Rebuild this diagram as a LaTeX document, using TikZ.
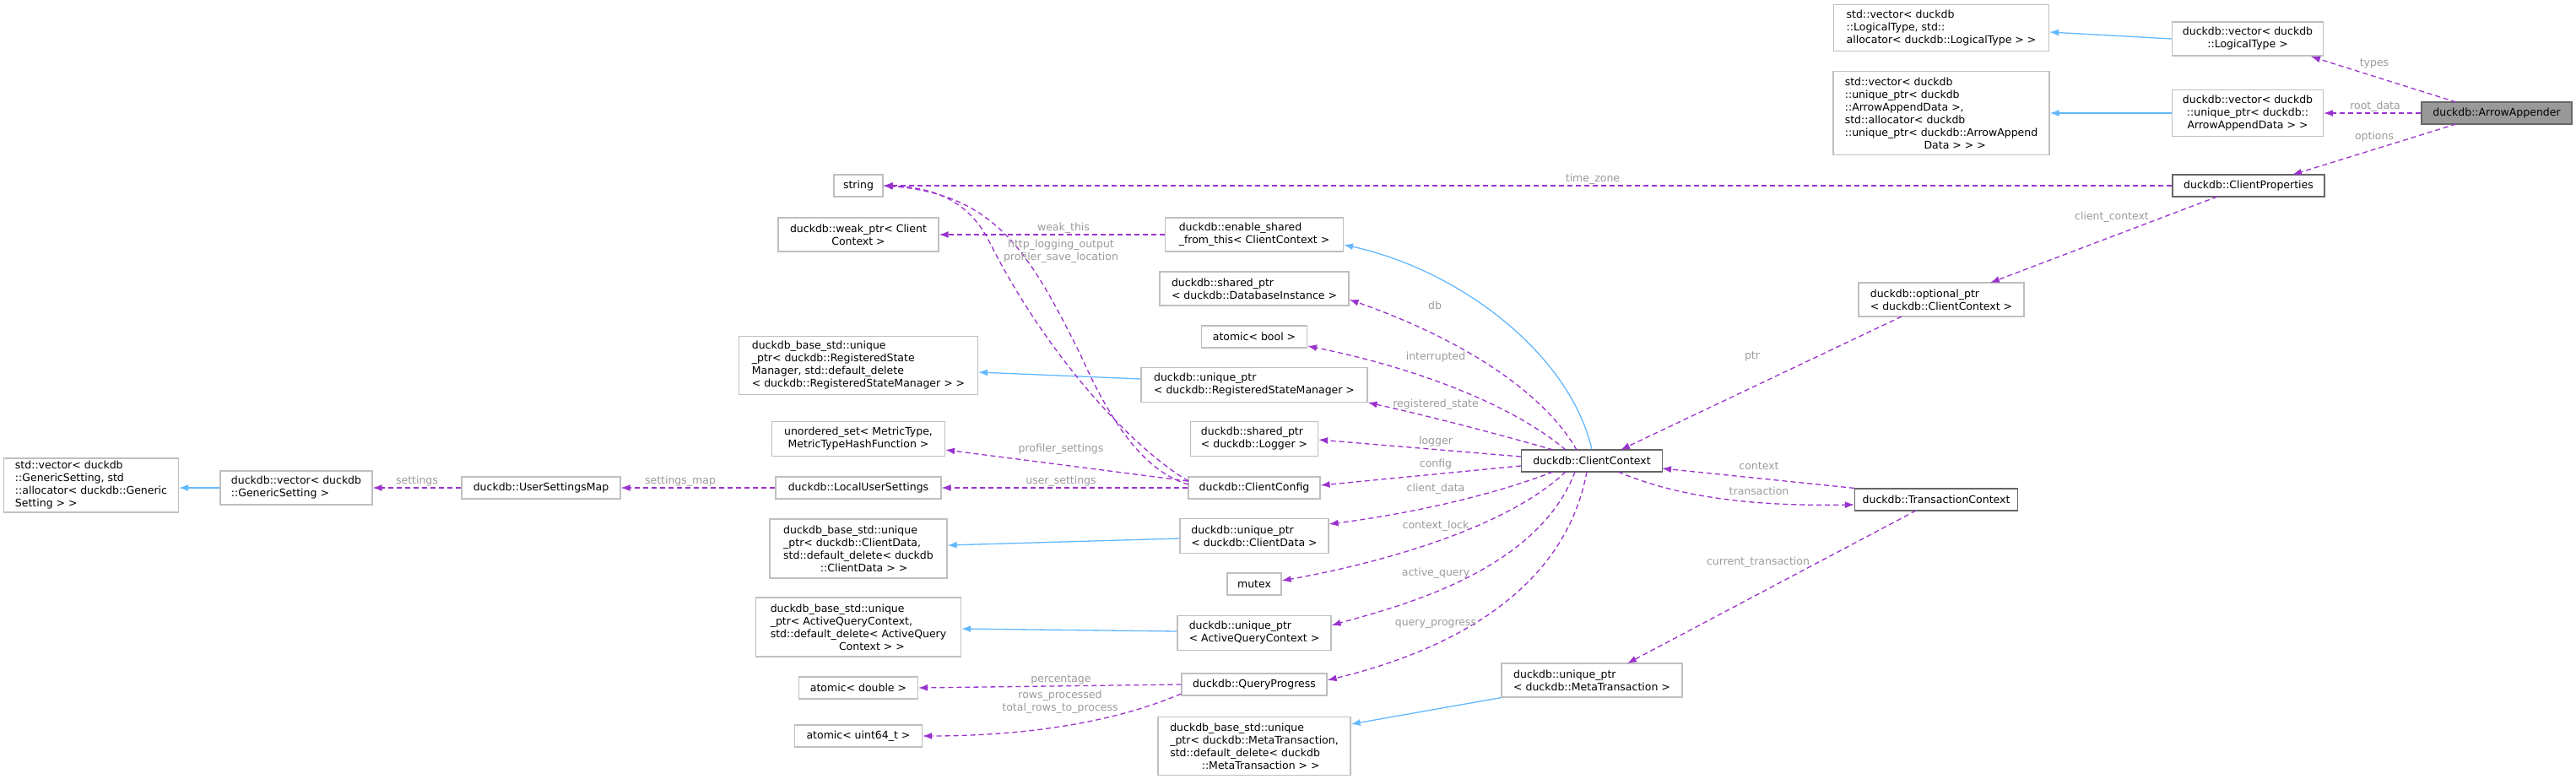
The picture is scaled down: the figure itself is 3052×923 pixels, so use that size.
\documentclass[tikz,border=0pt]{standalone}
\usepackage{fontspec}
\setmainfont{DejaVu Sans}
\usetikzlibrary{arrows.meta}
\definecolor{pur}{HTML}{9A32CD}
\definecolor{blu}{HTML}{63B8FF}
\definecolor{lbl}{HTML}{9A9A9A}
\begin{document}
\begin{tikzpicture}[x=1pt,y=-1pt,
  box/.style={draw=black!25,line width=1.2pt,fill=white,inner sep=0pt,font=\fontsize{12.5}{15}\selectfont,align=left},
  dk/.style={box,draw=black!60},
  lab/.style={text=lbl,font=\fontsize{12.5}{15}\selectfont,inner sep=0pt,align=center},
  mem/.style={draw=pur,line width=1.3pt,dash pattern=on 6pt off 4pt,-{Latex[length=11pt,width=8pt]}},
  inh/.style={draw=blu,line width=1.3pt,-{Latex[length=11pt,width=8pt]}}]
\useasboundingbox (0,0) rectangle (3052,923);
% nodes
\node[box,minimum width=255,minimum height=55] (svLT) at (2300,33) {std::vector< duckdb\\::LogicalType, std::\\allocator< duckdb::LogicalType > >};
\node[box,align=center,minimum width=179,minimum height=40] (vLT) at (2663,46) {duckdb::vector< duckdb\\::LogicalType >};
\node[box,minimum width=256,minimum height=99] (svAAD) at (2300,134) {std::vector< duckdb\\::unique\_ptr< duckdb\\::ArrowAppendData >,\\ std::allocator< duckdb\\::unique\_ptr< duckdb::ArrowAppend\\\hspace*{7.5em}Data > > >};
\node[box,align=center,minimum width=179,minimum height=55] (vAAD) at (2663,134) {duckdb::vector< duckdb\\::unique\_ptr< duckdb::\\ArrowAppendData > >};
\node[dk,fill=black!40,minimum width=178,minimum height=26] (aa) at (2958,134) {duckdb::ArrowAppender};
\node[dk,minimum width=180,minimum height=26] (cp) at (2664,220) {duckdb::ClientProperties};
\node[box,minimum width=196,minimum height=40] (opt) at (2300,355) {duckdb::optional\_ptr\\< duckdb::ClientContext >};
\node[box,minimum width=58,minimum height=26] (str) at (1017,220) {string};
\node[box,align=center,minimum width=190,minimum height=40] (wp) at (1017,278) {duckdb::weak\_ptr< Client\\Context >};
\node[box,minimum width=211,minimum height=40] (es) at (1486,278) {duckdb::enable\_shared\\\_from\_this< ClientContext >};
\node[box,minimum width=224,minimum height=40] (db) at (1486,342) {duckdb::shared\_ptr\\< duckdb::DatabaseInstance >};
\node[box,minimum width=125,minimum height=26] (ab) at (1486,399) {atomic< bool >};
\node[box,minimum width=283,minimum height=69] (rsmb) at (1017,433) {duckdb\_base\_std::unique\\\_ptr< duckdb::RegisteredState\\Manager, std::default\_delete\\< duckdb::RegisteredStateManager > >};
\node[box,minimum width=268,minimum height=41] (rsm) at (1486,456) {duckdb::unique\_ptr\\< duckdb::RegisteredStateManager >};
\node[box,align=center,minimum width=205,minimum height=41] (us) at (1017,520) {unordered\_set< MetricType,\\MetricTypeHashFunction >};
\node[box,minimum width=151,minimum height=41] (lg) at (1486,520) {duckdb::shared\_ptr\\< duckdb::Logger >};
\node[dk,minimum width=167,minimum height=26] (cc) at (1886,546) {duckdb::ClientContext};
\node[dk,minimum width=193,minimum height=26] (tc) at (2294,592) {duckdb::TransactionContext};
\node[box,minimum width=196,minimum height=26] (lus) at (1017,578) {duckdb::LocalUserSettings};
\node[box,minimum width=156,minimum height=26] (cfg) at (1486,578) {duckdb::ClientConfig};
\node[box,minimum width=207,minimum height=64] (svGS) at (108,575) {std::vector< duckdb\\::GenericSetting, std\\::allocator< duckdb::Generic\\Setting > >};
\node[box,minimum width=180,minimum height=40] (vGS) at (351,578) {duckdb::vector< duckdb\\::GenericSetting >};
\node[box,minimum width=188,minimum height=26] (usm) at (641,578) {duckdb::UserSettingsMap};
\node[box,minimum width=210,minimum height=70] (cdb) at (1017,650) {duckdb\_base\_std::unique\\\_ptr< duckdb::ClientData,\\ std::default\_delete< duckdb\\\hspace*{3.5em}::ClientData > >};
\node[box,minimum width=176,minimum height=41] (cd) at (1486,635) {duckdb::unique\_ptr\\< duckdb::ClientData >};
\node[box,minimum width=64,minimum height=26] (mx) at (1486,692) {mutex};
\node[box,minimum width=243,minimum height=70] (aqb) at (1017,743) {duckdb\_base\_std::unique\\\_ptr< ActiveQueryContext,\\ std::default\_delete< ActiveQuery\\\hspace*{6.5em}Context > >};
\node[box,minimum width=182,minimum height=41] (aq) at (1486,750) {duckdb::unique\_ptr\\< ActiveQueryContext >};
\node[box,minimum width=141,minimum height=26] (ad) at (1017,815) {atomic< double >};
\node[box,minimum width=172,minimum height=26] (qp) at (1486,811) {duckdb::QueryProgress};
\node[box,minimum width=214,minimum height=40] (mt) at (1886,806) {duckdb::unique\_ptr\\< duckdb::MetaTransaction >};
\node[box,minimum width=151,minimum height=26] (au) at (1017,872) {atomic< uint64\_t >};
\node[box,minimum width=228,minimum height=69] (mtb) at (1486,884) {duckdb\_base\_std::unique\\\_ptr< duckdb::MetaTransaction,\\ std::default\_delete< duckdb\\\hspace*{3em}::MetaTransaction > >};
% inheritance
\draw[inh] (vLT.west) -- (svLT.east |- 0,38);
\draw[inh] (vAAD.west) -- (svAAD.east);
\draw[inh] (cc.north) .. controls (1860,420) and (1730,320) .. (es.east |- 0,290);
\draw[inh] (rsm.west |- 0,449) -- (rsmb.east |- 0,441);
\draw[inh] (cd.west |- 0,638) -- (cdb.east |- 0,646);
\draw[inh] (aq.west |- 0,748) -- (aqb.east |- 0,745);
\draw[inh] (mt.south west) -- (mtb.east |- 0,858);
\draw[inh] (vGS.west) -- (svGS.east |- 0,578);
% members
\draw[mem] (2910,121) -- (2738,67);
\draw[mem] (aa.west) -- (vAAD.east);
\draw[mem] (2910,147) -- (2716,207);
\draw[mem] (cp.west) -- (str.east);
\draw[mem] (2627,233) -- (2358,335);
\draw[mem] (2253,375) -- (1920,533);
\draw[mem] (tc.north west) -- (1969,555);
\draw[mem] (1917,559) .. controls (1990,590) and (2080,600) .. (tc.west |- 0,598);
\draw[mem] (2270,605) -- (1928,786);
\draw[mem] (1868,533) .. controls (1820,450) and (1700,390) .. (db.east |- 0,355);
\draw[mem] (1855,533) .. controls (1780,470) and (1650,430) .. (ab.east |- 0,410);
\draw[mem] (1840,533) .. controls (1760,510) and (1680,490) .. (rsm.east |- 0,477);
\draw[mem] (cc.west |- 0,541) -- (lg.east |- 0,521);
\draw[mem] (cc.west |- 0,552) -- (cfg.east |- 0,575);
\draw[mem] (1840,559) .. controls (1760,590) and (1660,610) .. (cd.east |- 0,621);
\draw[mem] (1855,559) .. controls (1780,630) and (1620,670) .. (mx.east |- 0,688);
\draw[mem] (1866,559) .. controls (1820,680) and (1650,720) .. (aq.east |- 0,741);
\draw[mem] (1880,559) .. controls (1850,720) and (1680,780) .. (qp.east |- 0,806);
\draw[mem] (es.west) -- (wp.east);
\draw[mem] (1408,570) .. controls (1340,530) and (1240,420) .. (1174,290) .. controls (1150,240) and (1110,222) .. (str.east);
\draw[mem] (1408,574) .. controls (1360,560) and (1320,510) .. (1280,420) .. controls (1220,300) and (1180,230) .. (str.east);
\draw[mem] (cfg.west |- 0,570) -- (us.east |- 0,533);
\draw[mem] (cfg.west) -- (lus.east);
\draw[mem] (lus.west) -- (usm.east);
\draw[mem] (usm.west) -- (vGS.east |- 0,578);
\draw[mem] (qp.west) -- (ad.east);
\draw[mem] (qp.west |- 0,822) .. controls (1310,860) and (1200,872) .. (au.east);
% labels
\node[lab] (l1) at (2813,75) {types};
\node[lab] (l2) at (2814,126) {root\_data};
\node[lab] (l3) at (2813,162) {options};
\node[lab] (l4) at (1887,212) {time\_zone};
\node[lab] (l5) at (2502,257) {client\_context};
\node[lab] (l6) at (2076,422) {ptr};
\node[lab] (l7) at (2084,552) {context};
\node[lab] (l8) at (2084,582) {transaction};
\node[lab] (l9) at (2083,666) {current\_transaction};
\node[lab] (l10) at (1260,270) {weak\_this};
\node[lab] (l11) at (1257,298) {http\_logging\_output\\profiler\_save\_location};
\node[lab] (l12) at (1700,362) {db};
\node[lab] (l13) at (1701,423) {interrupted};
\node[lab] (l14) at (1701,479) {registered\_state};
\node[lab] (l15) at (1701,523) {logger};
\node[lab] (l16) at (1701,550) {config};
\node[lab] (l17) at (1701,579) {client\_data};
\node[lab] (l18) at (1701,623) {context\_lock};
\node[lab] (l19) at (1701,679) {active\_query};
\node[lab] (l20) at (1701,739) {query\_progress};
\node[lab] (l21) at (1257,532) {profiler\_settings};
\node[lab] (l22) at (1257,570) {user\_settings};
\node[lab] (l23) at (806,570) {settings\_map};
\node[lab] (l24) at (494,570) {settings};
\node[lab] (l25) at (1257,805) {percentage};
\node[lab] (l26) at (1256,832) {rows\_processed\\total\_rows\_to\_process};
\end{tikzpicture}
\end{document}
